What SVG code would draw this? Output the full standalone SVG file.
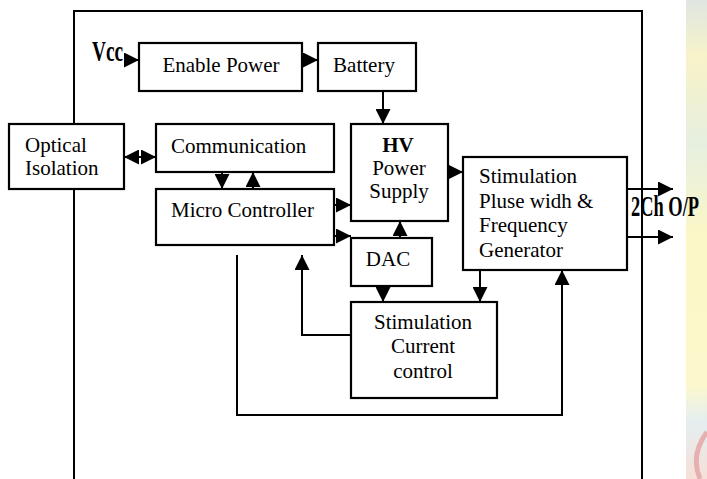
<svg xmlns="http://www.w3.org/2000/svg" width="707" height="479" viewBox="0 0 707 479">
  <defs>
    <style>
      .box { fill: #ffffff; stroke: #000000; stroke-width: 2.2; }
      .ln { fill: none; stroke: #000000; stroke-width: 2; }
      .t { font-family: 'Liberation Serif', 'DejaVu Serif', serif; font-size: 21px; fill: #000000; }
      .c { text-anchor: middle; }
      .big { font-family: 'Liberation Serif', 'DejaVu Serif', serif; font-weight: bold; font-size: 30px; fill: #000000; }
    </style>
    <marker id="ah" viewBox="0 0 10 10" refX="10" refY="5" markerWidth="15" markerHeight="15" markerUnits="userSpaceOnUse" orient="auto-start-reverse">
      <path d="M0,0 L10,5 L0,10 z" fill="#000000"/>
    </marker>
    <linearGradient id="wm" x1="0" y1="0" x2="0" y2="1">
      <stop offset="0" stop-color="#dfe6e2"/>
      <stop offset="0.12" stop-color="#f8f3c8"/>
      <stop offset="0.3" stop-color="#e6efe0"/>
      <stop offset="0.5" stop-color="#fcf7c6"/>
      <stop offset="0.8" stop-color="#fdf8cc"/>
      <stop offset="0.88" stop-color="#e4eef0"/>
      <stop offset="1" stop-color="#f6e0d8"/>
    </linearGradient>
  </defs>

  <rect x="0" y="0" width="707" height="479" fill="#ffffff"/>
  <rect x="686" y="0" width="21" height="479" fill="url(#wm)"/>
  <path d="M700,479 Q690,455 707,432" fill="none" stroke="#e7b0b0" stroke-width="5"/>

  <g id="frame">
    <path class="ln" d="M74,479 V11 H642 V479"/>
  </g>

  <g id="connectors">
    <line class="ln" x1="124" y1="60" x2="139" y2="60" marker-end="url(#ah)"/>
    <line class="ln" x1="302" y1="60" x2="318" y2="60" marker-end="url(#ah)"/>
    <line class="ln" x1="383" y1="91" x2="383" y2="124" marker-end="url(#ah)"/>
    <line class="ln" x1="124" y1="157" x2="156" y2="157" marker-start="url(#ah)" marker-end="url(#ah)"/>
    <line class="ln" x1="222" y1="172" x2="222" y2="189" marker-end="url(#ah)"/>
    <line class="ln" x1="253" y1="189" x2="253" y2="172" marker-end="url(#ah)"/>
    <line class="ln" x1="334" y1="205" x2="351" y2="205" marker-end="url(#ah)"/>
    <line class="ln" x1="334" y1="236" x2="351" y2="236" marker-end="url(#ah)"/>
    <line class="ln" x1="400" y1="238" x2="400" y2="221" marker-end="url(#ah)"/>
    <line class="ln" x1="448" y1="172" x2="463" y2="172" marker-end="url(#ah)"/>
    <line class="ln" x1="383" y1="286" x2="383" y2="302" marker-end="url(#ah)"/>
    <line class="ln" x1="480" y1="270" x2="480" y2="302" marker-end="url(#ah)"/>
    <path class="ln" d="M351,335 H302 V255" marker-end="url(#ah)"/>
    <path class="ln" d="M237,255 V415 H562 V270" marker-end="url(#ah)"/>
    <line class="ln" x1="627" y1="189" x2="673" y2="189" marker-end="url(#ah)"/>
    <line class="ln" x1="627" y1="237" x2="673" y2="237" marker-end="url(#ah)"/>
  </g>

  <g id="vcc">
    <text class="big" x="92" y="61" textLength="31" lengthAdjust="spacingAndGlyphs">Vcc</text>
  </g>

  <g id="enable-power">
    <rect class="box" x="139" y="43" width="163" height="48"/>
    <text class="t c" x="221" y="72">Enable Power</text>
  </g>

  <g id="battery">
    <rect class="box" x="318" y="43" width="98" height="48"/>
    <text class="t c" x="364" y="72">Battery</text>
  </g>

  <g id="optical-isolation">
    <rect class="box" x="9" y="124" width="115" height="65"/>
    <text class="t" x="25" y="152">Optical</text>
    <text class="t" x="25" y="175">Isolation</text>
  </g>

  <g id="communication">
    <rect class="box" x="156" y="124" width="178" height="48"/>
    <text class="t" x="171" y="153">Communication</text>
  </g>

  <g id="micro-controller">
    <rect class="box" x="156" y="189" width="178" height="56"/>
    <text class="t" x="171" y="217">Micro Controller</text>
  </g>

  <g id="hv-power-supply">
    <rect class="box" x="351" y="124" width="97" height="97"/>
    <text class="t c" x="398" y="152" font-weight="bold">HV</text>
    <text class="t c" x="399" y="175">Power</text>
    <text class="t c" x="399" y="198">Supply</text>
  </g>

  <g id="dac">
    <rect class="box" x="351" y="238" width="81" height="48"/>
    <text class="t c" x="388" y="266">DAC</text>
  </g>

  <g id="stimulation-current-control">
    <rect class="box" x="351" y="302" width="146" height="96"/>
    <text class="t c" x="423" y="329">Stimulation</text>
    <text class="t c" x="423" y="353">Current</text>
    <text class="t c" x="423" y="378">control</text>
  </g>

  <g id="stimulation-pulse-generator">
    <rect class="box" x="463" y="157" width="164" height="113"/>
    <text class="t" x="479" y="183">Stimulation</text>
    <text class="t" x="479" y="208">Pluse widh &amp;</text>
    <text class="t" x="479" y="232">Frequency</text>
    <text class="t" x="479" y="257">Generator</text>
  </g>

  <g id="output-label">
    <text class="big" x="631" y="216" font-size="29" textLength="68" lengthAdjust="spacingAndGlyphs">2Ch O/P</text>
  </g>
</svg>
